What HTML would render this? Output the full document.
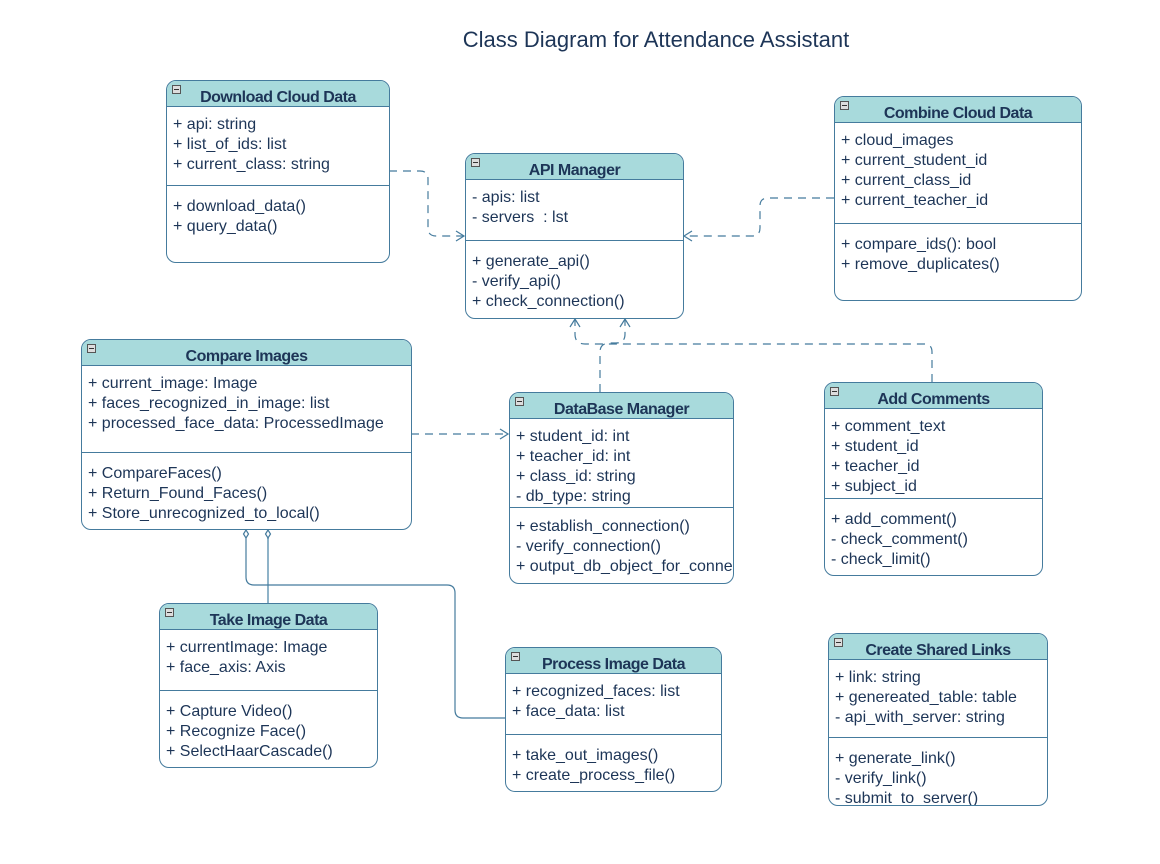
<!DOCTYPE html>
<html><head><meta charset="utf-8"><style>
body{margin:0;width:1160px;height:864px;background:#fff;position:relative;font-family:"Liberation Sans",sans-serif;color:#1d3557;overflow:hidden}
.t{position:absolute;left:0;width:1160px;top:27px;text-align:center;font-size:22px;padding-left:152px;box-sizing:border-box;color:#1d3557}
.b{position:absolute;border:1.3px solid #457b9d;border-radius:10px;background:#fff;overflow:hidden;box-sizing:border-box}
.h{height:26px;background:#a8dadc;border-bottom:1.3px solid #457b9d;text-align:center;font-weight:bold;font-size:16px;line-height:33px;letter-spacing:-0.5px;position:relative;box-sizing:border-box}
.h:before{content:"";position:absolute;left:5px;top:4px;width:7px;height:7px;border:1px solid #555;background:#ddd}
.h:after{content:"";position:absolute;left:7px;top:8px;width:5px;height:1px;background:#333}
.a{box-sizing:border-box;padding:8px 0 0 6px;border-bottom:1.3px solid #457b9d;font-size:16px;line-height:20px;white-space:nowrap}
.m{padding:11px 0 0 6px;font-size:16px;line-height:20px;white-space:nowrap}
svg{position:absolute;left:0;top:0}
</style></head><body>
<div class="t">Class Diagram for Attendance Assistant</div>
<svg width="1160" height="864" fill="none" stroke="#457b9d" stroke-width="1.2">
<g stroke-dasharray="8,6">
<path d="M389 171 H420 Q428 171 428 179 V228 Q428 236 436 236 H464"/>
<path d="M834 198 H768 Q760 198 760 206 V228 Q760 236 752 236 H684"/>
<path d="M411 434 H508"/>
<path d="M600 392 V352 Q600 343 610 343 H616 Q625 343 625 334 V319"/>
<path d="M932 382 V352 Q932 344 924 344 H585 Q575 344 575 334 V319"/>
</g>
<path d="M456 231 L464 236 L456 241 M692 231 L684 236 L692 241 M500 429 L508 434 L500 439 M570 327 L575 319 L580 327 M620 327 L625 319 L630 327"/>
<path d="M268 538 V603" stroke="#8fb3c8" stroke-width="2"/>
<path d="M246 538 V577 Q246 585 254 585 H447 Q455 585 455 593 V710 Q455 718 463 718 H505"/>
<path d="M246 530 l-2.5 4 l2.5 4 l2.5 -4z M268 530 l-2.5 4 l2.5 4 l2.5 -4z" fill="#fff"/>
</svg>

<div class="b" style="left:166px;top:80px;width:224px;height:183px"><div class="h">Download Cloud Data</div><div class="a" style="height:79px">+ api: string<br>+ list_of_ids: list<br>+ current_class: string</div><div class="m">+ download_data()<br>+ query_data()</div></div>

<div class="b" style="left:465px;top:153px;width:219px;height:166px"><div class="h">API Manager</div><div class="a" style="height:61px">- apis: list<br>- servers&nbsp; : lst</div><div class="m">+ generate_api()<br>- verify_api()<br>+ check_connection()</div></div>

<div class="b" style="left:834px;top:96px;width:248px;height:205px"><div class="h">Combine Cloud Data</div><div class="a" style="height:101px">+ cloud_images<br>+ current_student_id<br>+ current_class_id<br>+ current_teacher_id</div><div class="m">+ compare_ids(): bool<br>+ remove_duplicates()</div></div>

<div class="b" style="left:81px;top:339px;width:331px;height:191px"><div class="h">Compare Images</div><div class="a" style="height:87px">+ current_image: Image<br>+ faces_recognized_in_image: list<br>+ processed_face_data: ProcessedImage</div><div class="m">+ CompareFaces()<br>+ Return_Found_Faces()<br>+ Store_unrecognized_to_local()</div></div>

<div class="b" style="left:509px;top:392px;width:225px;height:192px"><div class="h">DataBase Manager</div><div class="a" style="height:89px">+ student_id: int<br>+ teacher_id: int<br>+ class_id: string<br>- db_type: string</div><div class="m" style="padding-top:9px">+ establish_connection()<br>- verify_connection()<br>+ output_db_object_for_connection()</div></div>

<div class="b" style="left:824px;top:382px;width:219px;height:194px"><div class="h">Add Comments</div><div class="a" style="height:90px">+ comment_text<br>+ student_id<br>+ teacher_id<br>+ subject_id</div><div class="m" style="padding-top:11px">+ add_comment()<br>- check_comment()<br>- check_limit()</div></div>

<div class="b" style="left:159px;top:603px;width:219px;height:165px"><div class="h">Take Image Data</div><div class="a" style="height:61px">+ currentImage: Image<br>+ face_axis: Axis</div><div class="m">+ Capture Video()<br>+ Recognize Face()<br>+ SelectHaarCascade()</div></div>

<div class="b" style="left:505px;top:647px;width:217px;height:145px"><div class="h">Process Image Data</div><div class="a" style="height:61px">+ recognized_faces: list<br>+ face_data: list</div><div class="m">+ take_out_images()<br>+ create_process_file()</div></div>

<div class="b" style="left:828px;top:633px;width:220px;height:173px"><div class="h">Create Shared Links</div><div class="a" style="height:78px">+ link: string<br>+ genereated_table: table<br>- api_with_server: string</div><div class="m">+ generate_link()<br>- verify_link()<br>- submit_to_server()</div></div>
</body></html>
